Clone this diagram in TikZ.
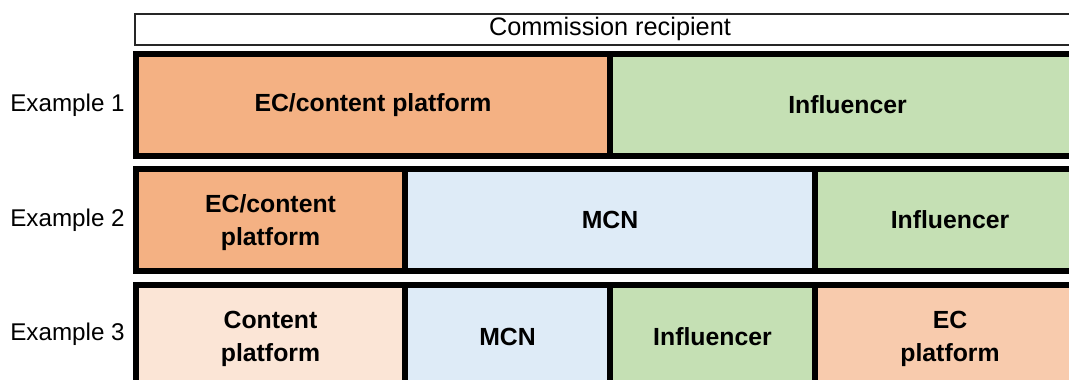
\documentclass[tikz,border=0pt]{standalone}
\usepackage{fontspec}
\setmainfont{Liberation Sans}
\definecolor{ecorange}{HTML}{F4B183}
\definecolor{ecpeach}{HTML}{F8CBAD}
\definecolor{contentpink}{HTML}{FBE5D6}
\definecolor{inflgreen}{HTML}{C5E0B4}
\definecolor{mcnblue}{HTML}{DEEBF7}
\tikzset{
  cell/.style={draw=black, line width=6pt, rectangle, inner sep=0pt, align=center,
    font=\fontsize{24.8}{33}\selectfont\bfseries},
  celltext/.style={inner sep=0pt, align=center, font=\fontsize{24.8}{33}\selectfont\bfseries},
  headbox/.style={draw=black!85, line width=2pt, rectangle, inner sep=0pt,
    minimum width=950pt, minimum height=30.7pt, font=\fontsize{25.3}{28}\selectfont},
  rowlabel/.style={inner sep=0pt, font=\fontsize{24.2}{28}\selectfont},
}
\begin{document}
\begin{tikzpicture}[x=1pt, y=-1pt]
\useasboundingbox (0,0) rectangle (1069,380);
\clip (0,0) rectangle (1069,380);

% header
\node[headbox] (head) at (610,29.35) {Commission recipient};

% example 1
\node[rowlabel] (lab1) at (67.5,104.75) {Example 1};
\node[cell, fill=ecorange, minimum width=474pt, minimum height=101.5pt] (r1a) at (373,104.75) {EC/content platform};
\node[cell, fill=inflgreen, minimum width=475pt, minimum height=101.5pt] (r1b) at (847.5,104.75) {Influencer};

% example 2
\node[rowlabel] (lab2) at (67.5,220) {Example 2};
\node[cell, fill=ecorange, minimum width=269pt, minimum height=102pt] (r2a) at (270.5,220) {};
\node[celltext] (r2a-t) at ([yshift=-3pt]r2a.center) {EC/content\\platform};
\node[cell, fill=mcnblue, minimum width=410pt, minimum height=102pt] (r2b) at (610,220) {MCN};
\node[cell, fill=inflgreen, minimum width=270pt, minimum height=102pt] (r2c) at (950,220) {Influencer};

% example 3
\node[rowlabel] (lab3) at (67.5,334) {Example 3};
\node[cell, fill=contentpink, minimum width=269pt, minimum height=103pt] (r3a) at (270.5,336.5) {};
\node[celltext] (r3a-t) at ([yshift=-2.5pt]r3a.center) {Content\\platform};
\node[cell, fill=mcnblue, minimum width=205pt, minimum height=103pt] (r3b) at (507.5,336.5) {MCN};
\node[cell, fill=inflgreen, minimum width=205pt, minimum height=103pt] (r3c) at (712.5,336.5) {Influencer};
\node[cell, fill=ecpeach, minimum width=270pt, minimum height=103pt] (r3d) at (950,336.5) {};
\node[celltext] (r3d-t) at ([yshift=-2.5pt]r3d.center) {EC\\platform};
\end{tikzpicture}
\end{document}
